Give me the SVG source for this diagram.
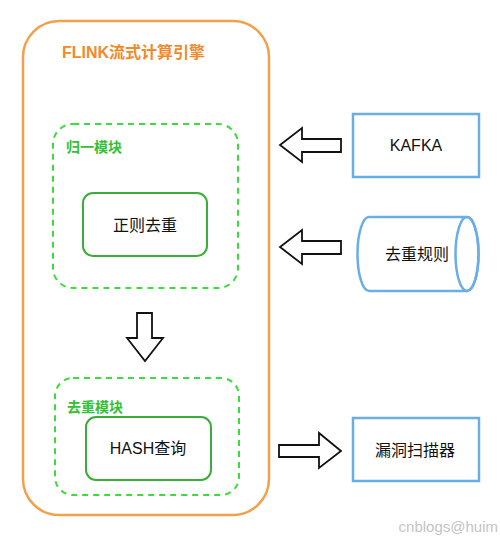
<svg xmlns="http://www.w3.org/2000/svg" width="500" height="538" viewBox="0 0 500 538">
<style>
.lbl{font-family:"Liberation Sans","Noto Sans CJK SC",sans-serif;}
.dash{fill:none;stroke:#3ddc3d;stroke-width:2;stroke-dasharray:6,5;}
.inner{fill:#fff;stroke:#3aad3a;stroke-width:2;}
.blue{fill:#fff;stroke:#6aaee8;stroke-width:2.5;}
.arr{fill:#fff;stroke:#111;stroke-width:1.8;stroke-linejoin:miter;}
.mod{font-size:14px;font-weight:bold;fill:#33c033;}
.txt{font-size:16px;fill:#111;text-anchor:middle;}
</style>
<rect width="500" height="538" fill="#fff"/>
<g id="flink">
<rect x="23" y="21" width="246" height="494" rx="36" fill="#fff" stroke="#f2a14a" stroke-width="2.5"/>
<text class="lbl" x="62" y="58" font-size="16" font-weight="bold" fill="#f08a2a">FLINK流式计算引擎</text>
</g>
<g id="normalize">
<rect class="dash" x="53" y="124" width="185" height="164" rx="20"/>
<text class="lbl mod" x="66" y="152">归一模块</text>
</g>
<g id="regex">
<rect class="inner" x="83" y="193" width="124" height="63" rx="10"/>
<text class="lbl txt" x="145" y="231">正则去重</text>
</g>
<g id="dedup">
<rect class="dash" x="55" y="378" width="184" height="117" rx="18"/>
<text class="lbl mod" x="67" y="412">去重模块</text>
</g>
<g id="hash">
<rect class="inner" x="86" y="417" width="125" height="63" rx="10"/>
<text class="lbl txt" x="148" y="454">HASH查询</text>
</g>
<g id="kafka">
<rect class="blue" x="353" y="114" width="126" height="63"/>
<text class="lbl txt" x="416" y="151" font-size="15">KAFKA</text>
</g>
<g id="rules">
<path class="blue" d="M369,217 L467,217 A11.5,37 0 0 1 467,291 L369,291 A11.5,37 0 0 1 369,217 Z"/>
<ellipse cx="467" cy="254" rx="11.5" ry="37" fill="none" stroke="#6aaee8" stroke-width="2.5"/>
<text class="lbl txt" x="417" y="260">去重规则</text>
</g>
<g id="scanner">
<rect class="blue" x="353" y="418" width="126" height="63"/>
<text class="lbl txt" x="415" y="456">漏洞扫描器</text>
</g>
<g id="connectors">
<polygon class="arr" points="137,313 152,313 152,338 163,338 145,361 127,338 137,338"/>
<polygon class="arr" points="341,139 302,139 302,128 280,145 302,162 302,152 341,152"/>
<polygon class="arr" points="341,241 302,241 302,230 280,247 302,264 302,254 341,254"/>
<polygon class="arr" points="279,445 319,445 319,433 341,451 319,468 319,457 279,457"/>
</g>
<text class="lbl" x="498" y="532" font-size="15" fill="#c4c4c4" text-anchor="end">cnblogs@huim</text>
</svg>
